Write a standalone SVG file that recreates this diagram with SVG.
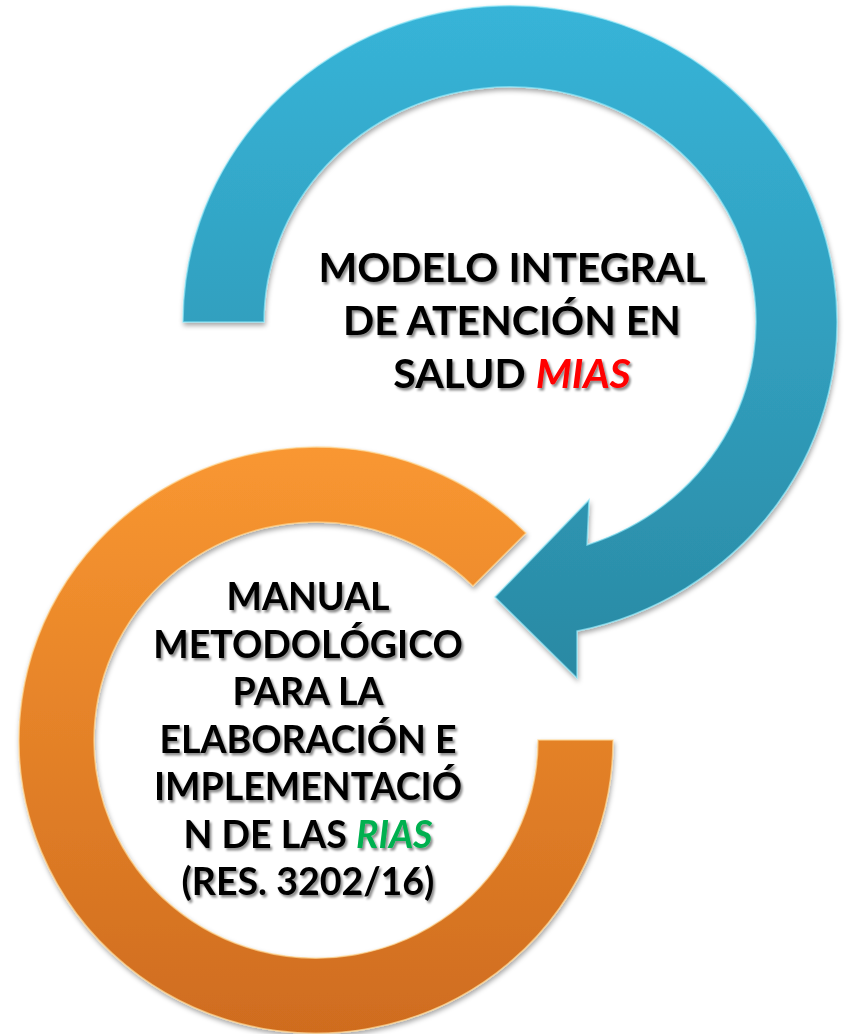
<svg xmlns="http://www.w3.org/2000/svg" width="844" height="1034" viewBox="0 0 844 1034">
<defs>
  <linearGradient id="gBlue" gradientUnits="userSpaceOnUse" x1="0" y1="6" x2="0" y2="680">
    <stop offset="0" stop-color="#37B4D8"/>
    <stop offset="1" stop-color="#2A89A3"/>
  </linearGradient>
  <linearGradient id="gOrange" gradientUnits="userSpaceOnUse" x1="0" y1="447" x2="0" y2="1034">
    <stop offset="0" stop-color="#F99731"/>
    <stop offset="1" stop-color="#CF6C1F"/>
  </linearGradient>
  <filter id="shapeShadow" x="-10%" y="-10%" width="120%" height="120%">
    <feDropShadow dx="1" dy="3" stdDeviation="2.5" flood-color="#000" flood-opacity="0.35"/>
  </filter>
  <filter id="textShadow" x="-10%" y="-20%" width="120%" height="140%">
    <feDropShadow dx="2" dy="2.5" stdDeviation="1.2" flood-color="#000" flood-opacity="0.45"/>
  </filter>
</defs>
<style>
  .lbl { font-family: Lato, "Liberation Sans", sans-serif; font-weight: 700; font-size: 41px; fill: #000; text-anchor: middle; }
  .lbl2 { font-family: Lato, "Liberation Sans", sans-serif; font-weight: 700; font-size: 37.5px; fill: #000; text-anchor: middle; }
  .mias { fill: #FF0000; font-style: italic; }
  .rias { fill: #00B050; font-style: italic; }
  .blue { fill: url(#gBlue); stroke: #8BE6F7; stroke-width: 1.5; stroke-opacity: 0.7; }
  .orange { fill: url(#gOrange); stroke: #FFD690; stroke-width: 1.5; stroke-opacity: 0.7; }
</style>
<g id="connectors"></g>
<g id="node-manual">
  <path class="orange" filter="url(#shapeShadow)" d="M 613 740 A 297 293 0 1 1 526 533 L 473 586 A 222 218 0 1 0 538 740 Z"/>
  <g filter="url(#textShadow)">
    <text class="lbl2" x="308" y="610">MANUAL</text>
    <text class="lbl2" x="308" y="657.5">METODOLÓGICO</text>
    <text class="lbl2" x="308" y="705">PARA LA</text>
    <text class="lbl2" x="308" y="752.5">ELABORACIÓN E</text>
    <text class="lbl2" x="308" y="800">IMPLEMENTACIÓ</text>
    <text class="lbl2" x="308" y="847.5">N DE LAS <tspan class="rias">RIAS</tspan></text>
    <text class="lbl2" x="308" y="895">(RES. 3202/16)</text>
  </g>
</g>
<g id="node-mias">
  <path class="blue" filter="url(#shapeShadow)" d="M 183 322 A 327 316 0 1 1 577 631 L 577 678 L 495 597 L 589 500 L 587 545 A 246 235 0 1 0 264 322 Z"/>
  <g filter="url(#textShadow)">
    <text class="lbl" x="512" y="282">MODELO INTEGRAL</text>
    <text class="lbl" x="512" y="335">DE ATENCIÓN EN</text>
    <text class="lbl" x="512" y="388">SALUD <tspan class="mias">MIAS</tspan></text>
  </g>
</g>
</svg>
